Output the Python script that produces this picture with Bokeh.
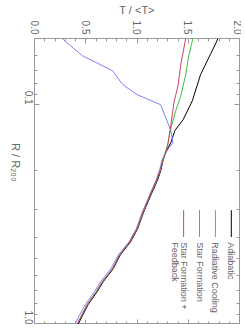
import math
from bokeh.plotting import figure
from bokeh.models import (Range1d, LinearAxis, LogAxis, FixedTicker, SingleIntervalTicker,
                          PrintfTickFormatter, Label)
from bokeh.embed import file_html
from bokeh.resources import INLINE

# ---- data (R / R200 , T / <T>) ----
adiabatic_r = [0.050, 0.0524, 0.073, 0.096, 0.117, 0.131, 0.149, 0.165, 0.178, 0.197, 0.218, 0.258, 0.308, 0.368, 0.421, 0.482, 0.558, 0.639, 0.709, 0.812, 0.921, 1.0]
adiabatic_t = [1.79, 1.77, 1.62, 1.54, 1.45, 1.37, 1.33, 1.28, 1.255, 1.235, 1.205, 1.135, 1.065, 1.005, 0.937, 0.838, 0.768, 0.670, 0.612, 0.523, 0.463, 0.425]

cooling_r = [0.050, 0.052, 0.060, 0.070, 0.081, 0.090, 0.100, 0.131, 0.149, 0.160, 0.178, 0.197, 0.218, 0.258, 0.308, 0.368, 0.421, 0.482, 0.558, 0.639, 0.709, 0.812, 0.921, 1.0]
cooling_t = [0.27, 0.31, 0.47, 0.76, 0.86, 1.00, 1.23, 1.33, 1.35, 1.30, 1.245, 1.222, 1.190, 1.122, 1.052, 0.992, 0.922, 0.818, 0.745, 0.645, 0.585, 0.495, 0.432, 0.392]

starform_r = [0.050, 0.060, 0.073, 0.092, 0.107, 0.130, 0.153, 0.165, 0.178, 0.197, 0.218, 0.258, 0.308, 0.368, 0.421, 0.482, 0.558, 0.639, 0.709, 0.812, 0.921, 1.0]
starform_t = [1.545, 1.505, 1.475, 1.425, 1.376, 1.327, 1.297, 1.275, 1.250, 1.230, 1.198, 1.128, 1.060, 1.000, 0.930, 0.832, 0.762, 0.663, 0.604, 0.515, 0.455, 0.416]

feedback_r = [0.050, 0.0646, 0.082, 0.098, 0.124, 0.153, 0.165, 0.178, 0.197, 0.218, 0.258, 0.308, 0.368, 0.421, 0.482, 0.558, 0.639, 0.709, 0.812, 0.921, 1.0]
feedback_t = [1.475, 1.43, 1.40, 1.36, 1.33, 1.30, 1.28, 1.255, 1.228, 1.196, 1.127, 1.058, 0.998, 0.929, 0.830, 0.760, 0.661, 0.602, 0.513, 0.453, 0.414]

series_names = ["Adiabatic", "Radiative Cooling", "Star Formation", "Star Formation +", "Feedback"]
x_ticks = [0.0, 0.5, 1.0, 1.5, 2.0]
y_ticks = [0.1, 1.0]
y_minor = [0.06, 0.07, 0.08, 0.09, 0.2, 0.3, 0.4, 0.5, 0.6, 0.7, 0.8, 0.9]

# ---- styles ----
FONT = "Liberation Sans"
TXT = "#666666"
AX = "#999999"
colors = ["#000000", "#8080ff", "#3cc03c", "#cc4466"]

p = figure(frame_width=205, frame_height=286,
           x_range=Range1d(0, 2), y_range=Range1d(1.0, 0.05),
           y_axis_type="log", x_axis_location="above",
           output_backend="svg", toolbar_location=None,
           min_border_left=0, min_border_right=2, min_border_top=0, min_border_bottom=0)
p.xgrid.visible = False
p.ygrid.visible = False
p.outline_line_color = AX
p.background_fill_color = "white"
p.border_fill_color = "white"

series = [(adiabatic_t, adiabatic_r), (cooling_t, cooling_r), (starform_t, starform_r), (feedback_t, feedback_r)]
for (t, r), c in zip(series, colors):
    p.line(x=t, y=r, line_color=c, line_width=1)

def style_axis(ax, labels=True):
    ax.axis_line_color = AX
    ax.major_tick_line_color = AX
    ax.minor_tick_line_color = AX
    ax.major_tick_in = 5
    ax.major_tick_out = 0
    ax.minor_tick_in = 3
    ax.minor_tick_out = 0
    ax.major_label_text_font = FONT
    ax.major_label_text_color = TXT
    ax.major_label_text_font_size = "10px"
    ax.axis_label_text_font = FONT
    ax.axis_label_text_color = TXT
    ax.axis_label_text_font_size = "11px"
    ax.axis_label_text_font_style = "normal"
    if not labels:
        ax.major_label_text_font_size = "1px"
        ax.major_label_text_color = None
        ax.major_label_standoff = 0

fmt = PrintfTickFormatter(format="%.1f")

top = p.xaxis[0]
top.ticker = SingleIntervalTicker(interval=0.5, num_minor_ticks=5)
top.formatter = fmt
style_axis(top)
top.axis_label = "T / <T>"
top.major_label_orientation = -math.pi / 2
top.major_label_standoff = 4
top.axis_label_standoff = 2

left = p.yaxis[0]
left.ticker = FixedTicker(ticks=y_ticks, minor_ticks=y_minor)
left.formatter = fmt
style_axis(left)
left.axis_label = "R / R\u2082\u2080\u2080"
left.major_label_orientation = -math.pi / 2
left.major_label_standoff = 6
left.axis_label_standoff = 2
try:
    left.axis_label_orientation = -math.pi / 2
except Exception:
    pass

bottom = LinearAxis(ticker=SingleIntervalTicker(interval=0.5, num_minor_ticks=5))
style_axis(bottom, labels=False)
p.add_layout(bottom, "below")

right = LogAxis(ticker=FixedTicker(ticks=y_ticks, minor_ticks=y_minor))
style_axis(right, labels=False)
p.add_layout(right, "right")

# ---- rotated legend ----
leg_x = [1.92, 1.765, 1.61, 1.455]
for i, c in enumerate(colors):
    p.line(x=[leg_x[i], leg_x[i]], y=[0.302, 0.400], line_color=c, line_width=1)
    p.add_layout(Label(x=leg_x[i], y=0.422, text=series_names[i], angle=-math.pi / 2,
                       text_font=FONT, text_font_size="9px", text_color=TXT,
                       text_align="left", text_baseline="middle"))
p.add_layout(Label(x=leg_x[3] - 0.085, y=0.422, text=series_names[4], angle=-math.pi / 2,
                   text_font=FONT, text_font_size="9px", text_color=TXT,
                   text_align="left", text_baseline="middle"))

open("out.html", "w").write(file_html(p, INLINE))
